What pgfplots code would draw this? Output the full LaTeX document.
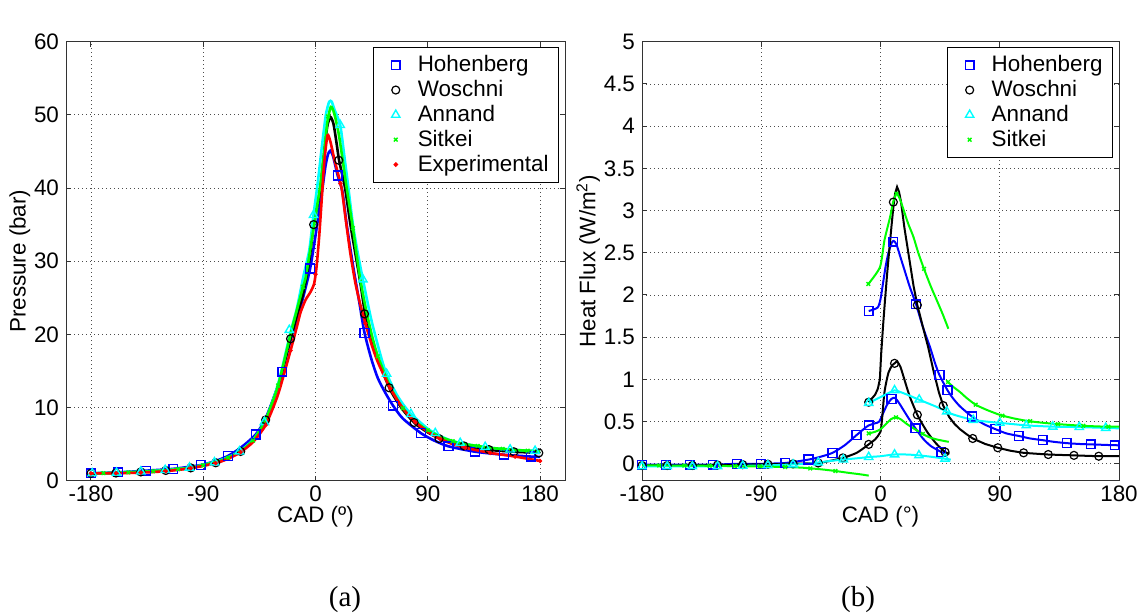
\documentclass[border=0pt]{standalone}
\usepackage{pgfplots}
\pgfplotsset{compat=1.18}
\usepackage{fontspec}
\setmainfont{Liberation Sans}
\newfontfamily\timesfont{Liberation Serif}
\definecolor{mblue}{rgb}{0,0,1}
\definecolor{mcyan}{rgb}{0,1,1}
\definecolor{mgreen}{rgb}{0,1,0}
\definecolor{mred}{rgb}{1,0,0}
\pgfplotsset{
  myaxis/.style={
    scale only axis, anchor=south west,
    font=\fontsize{11.2}{13}\selectfont,
    /pgf/number format/assume math mode=true,
    scaled ticks=false,
    tick align=inside, major tick length=2.5pt,
    grid=major, grid style={black!70, line width=0.4pt, dash pattern=on 0.5pt off 1.5pt},
    axis line style={black!80, line width=0.5pt},
    tick style={black!80, line width=0.5pt},
    xtick={-180,-90,0,90,180},
    xticklabel style={yshift=1pt},
    xlabel style={yshift=4.5pt},
    ylabel style={yshift=-5pt},
    legend style={at={(rel axis cs:1,1)}, anchor=north east, xshift=-3pt, yshift=-2.7pt,
      draw=black, line width=0.5pt, font=\fontsize{11.2}{13}\selectfont, row sep=-1.2pt},
    legend cell align=left,
    legend image code/.code={\path[draw=none] (0pt,0pt) (17pt,0pt); \path[##1, only marks] plot coordinates {(8pt,0pt)};},
  },
  hohM/.style={only marks, mblue, mark=square, mark size=2.2pt, mark options={line width=0.7pt}},
  wosM/.style={only marks, black, mark=o, mark size=2pt, mark options={line width=0.6pt}},
  annM/.style={only marks, mcyan, mark=triangle, mark size=2.4pt, mark options={line width=0.7pt}},
  sitM/.style={only marks, mgreen, mark=x, mark size=1.3pt, mark options={line width=0.7pt}},
  expM/.style={only marks, mred, mark=*, mark size=0.9pt},
}
\begin{document}
\begin{tikzpicture}
\path[use as bounding box] (0pt,0pt) rectangle (569pt,307pt);

%================ LEFT: PRESSURE =================
\begin{axis}[myaxis,
  at={(33pt,66.65pt)}, width=249.5pt, height=219.5pt,
  xmin=-200, xmax=200, ymin=0, ymax=60,
  ytick={0,10,20,30,40,50,60},
  xlabel={CAD (º)}, ylabel={Pressure (bar)},
]
% legend (marker) plots
\addplot[hohM] coordinates {(-180,1.0) (-158,1.14) (-136,1.37) (-114,1.62) (-92,2.14) (-70,3.4) (-48,6.3) (-26.6,14.9) (-4.3,29.0) (17.8,41.7) (39.3,20.2) (62.2,10.25) (84.5,6.5) (106.6,4.7) (128,3.96) (151,3.55) (172.5,3.3)};
\addlegendentry{Hohenberg}
\addplot[wosM] coordinates {(-180,1.0) (-160,1.05) (-140,1.2) (-120,1.4) (-100,1.75) (-80,2.45) (-60,4.0) (-40,8.3) (-20,19.4) (-1.5,35) (18.6,43.8) (39.3,22.8) (59,12.7) (79,7.95) (99,5.75) (119,4.75) (139,4.25) (159,3.95) (179,3.8)};
\addlegendentry{Woschni}
\addplot[annM] coordinates {(-179,1.0) (-159.5,1.08) (-140,1.25) (-120.5,1.45) (-101,1.78) (-81,2.5) (-61,4.0) (-41,8.0) (-21,20.6) (-1.6,36.3) (19.8,48.6) (38,27.5) (57,14.6) (76.5,9.1) (96,6.5) (116,5.15) (136,4.6) (156,4.25) (176,4.07)};
\addlegendentry{Annand}
\addplot[sitM] coordinates {(-170,1.03) (-150,1.14) (-130,1.3) (-110,1.58) (-90,2.1) (-70,3.15) (-50,5.5) (-30,13) (-10,26.5) (10,49.8) (30,34.5) (50,17) (70,9.9) (90,6.9) (110,5.4) (130,4.75) (150,4.35) (170,4.1)};
\addlegendentry{Sitkei}
\addplot[expM] coordinates {(-180,1.0) (-160,1.02) (-140,1.1) (-120,1.3) (-100,1.7) (-80,2.4) (-60,3.9) (-40,7.6) (-20,17.8) (0,28.2) (20,40.6) (40,21.5) (60,12.6) (80,8.0) (100,5.7) (120,4.5) (140,3.8) (160,3.3) (180,2.7)};
\addlegendentry{Experimental}
% lines
\addplot[mblue, line width=1.3pt, smooth, tension=0.4, forget plot] coordinates {
(-180,1.0) (-158,1.14) (-136,1.37) (-114,1.62) (-92,2.14) (-80,2.7) (-70,3.4) (-60,4.5) (-48,6.3) (-40,8.5) (-30,13.0) (-26.6,14.9) (-20,19.2) (-15,22) (-10,25) (-4.3,29) (0,33.5) (3,37) (5.6,40) (8,43) (10,44.6) (11.8,45.1) (14,44.4) (17.8,41.7) (21.6,39.5) (25,35) (30,29.5) (35,24.5) (39.3,20.2) (45,16.5) (50,14.0) (56,12) (62.2,10.25) (70,8.5) (84.5,6.5) (95,5.5) (106.6,4.7) (128,3.96) (151,3.55) (172.5,3.3) (180,3.25)};
\addplot[black, line width=1.3pt, smooth, tension=0.4, forget plot] coordinates {
(-180,1.0) (-160,1.05) (-140,1.2) (-120,1.4) (-100,1.75) (-80,2.45) (-70,3.1) (-60,4.0) (-50,5.6) (-40,8.3) (-30,13.0) (-20,19.4) (-15,22.5) (-10,25.5) (-5,30) (-1.5,35) (2,38) (4.3,40.5) (7,45) (9.5,48.5) (12,49.7) (14.5,48.7) (17,46) (19,43.7) (23.7,40) (28,35) (32,31) (36,27) (40,22.6) (45,19.3) (50,16.6) (60,12.4) (70,9.7) (80,7.8) (90,6.6) (100,5.7) (110,5.1) (120,4.7) (140,4.2) (160,3.95) (180,3.8)};
\addplot[mcyan, line width=1.3pt, smooth, tension=0.4, forget plot] coordinates {
(-180,1.0) (-160,1.08) (-140,1.25) (-120,1.45) (-100,1.8) (-80,2.6) (-70,3.2) (-60,4.1) (-50,5.6) (-40,8.3) (-30,13.2) (-20,20.3) (-15,23.5) (-9.6,28) (-5,31.5) (-1.6,36.3) (2,41) (5,45.5) (8.3,50) (11,51.8) (13,51.8) (15,50.8) (19.8,48.6) (23,44.5) (26,40.5) (30,35) (34,31) (38,27.5) (45,21.8) (55,15.5) (65,11.8) (75,9.4) (90,7.1) (100,6.1) (110,5.4) (120,5.0) (140,4.5) (160,4.2) (180,4.05)};
\addplot[mgreen, line width=1.3pt, smooth, tension=0.4, forget plot] coordinates {
(-180,1.0) (-160,1.07) (-140,1.22) (-120,1.42) (-100,1.78) (-80,2.55) (-70,3.15) (-60,4.05) (-50,5.5) (-40,8.3) (-30,13.0) (-20,20.0) (-15,23.3) (-10,26.5) (-7.6,28) (-2,34) (3.5,40) (7,45) (9.5,49) (12.3,51.1) (15,50.2) (19,47) (25,40) (30,34.5) (35.4,28) (40,23.8) (45,20) (50,17) (60,12.8) (70,9.9) (80,8.1) (90,6.9) (100,6.0) (110,5.4) (120,5.0) (140,4.5) (160,4.2) (180,4.0)};
\addplot[mred, line width=1.3pt, smooth, tension=0.4, forget plot] coordinates {
(-180,1.0) (-160,1.02) (-140,1.1) (-120,1.3) (-100,1.7) (-80,2.4) (-70,3.0) (-60,3.9) (-50,5.3) (-40,7.6) (-30,11.8) (-20,17.8) (-15,21) (-12,23) (-8,24.7) (-4,25.8) (-1,27) (1,29.5) (3,33.5) (5,38.5) (7,43.5) (9.6,47.2) (12,46.3) (15,44) (18,42) (21,39.9) (24,36) (28,31) (32,27) (36,24) (40,21.5) (45,18.6) (50,16.2) (60,12.6) (70,9.9) (80,8.0) (90,6.7) (100,5.7) (110,5.0) (120,4.5) (140,3.8) (160,3.3) (180,2.7)};
\end{axis}

%================ RIGHT: HEAT FLUX =================
\begin{axis}[myaxis,
  at={(321pt,66.65pt)}, width=238.5pt, height=219.5pt,
  xmin=-180, xmax=180, ymin=-0.2, ymax=5,
  ytick={0,0.5,1,1.5,2,2.5,3,3.5,4,4.5,5},
  xlabel={CAD (°)}, ylabel={Heat Flux (W/m\textsuperscript{2})},
]
\addplot[hohM] coordinates {(-180,-0.01) (-162,-0.01) (-144,-0.01) (-126.6,-0.01) (-108.5,0) (-90.4,0) (-71.8,0.01) (-54.3,0.05) (-36.2,0.13) (-18.1,0.34) (-8.9,0.455) (8.3,0.77) (26.4,0.42) (45.9,0.14)
 (-8.9,1.81) (9.7,2.63) (26.8,1.89) (44.5,1.05) (50.6,0.87) (69,0.56) (86.8,0.41) (104.3,0.33) (122.4,0.28) (140.5,0.245) (158.6,0.23) (176.7,0.22)};
\addlegendentry{Hohenberg}
\addplot[wosM] coordinates {(-180,-0.02) (-161,-0.02) (-142,-0.02) (-123,-0.015) (-104,-0.01) (-85,-0.005) (-66,0) (-47,0.01) (-28.4,0.07) (-8.9,0.23) (10.6,1.19) (27.8,0.58) (48.7,0.14)
 (-8.9,0.73) (9.7,3.1) (27.8,1.88) (47.3,0.69) (69.6,0.30) (88.5,0.19) (108,0.13) (126.6,0.11) (146,0.10) (164.7,0.09)};
\addlegendentry{Woschni}
\addplot[annM] coordinates {(-180,-0.03) (-161,-0.03) (-142,-0.03) (-123,-0.028) (-104,-0.024) (-85,-0.018) (-66,-0.008) (-47,0.015) (-28,0.05) (-8.9,0.08) (10.6,0.11) (29,0.10) (48.7,0.06)
 (-8.9,0.72) (10.6,0.87) (29.2,0.76) (50,0.62) (70,0.52) (90,0.485) (110,0.455) (130,0.44) (150,0.435) (170,0.425)};
\addlegendentry{Annand}
\addplot[sitM] coordinates {(-167,-0.02) (-148,-0.021) (-129,-0.023) (-110,-0.028) (-91,-0.031) (-72,-0.038) (-53,-0.055) (-34,-0.085)
 (-8.9,0.36) (11.7,0.55) (32,0.355) (-9.2,2.13) (12,3.2) (32.8,2.31)
 (51,0.97) (71.8,0.70) (92,0.57) (113,0.505) (134,0.47) (153,0.45) (172,0.44)};
\addlegendentry{Sitkei}
% Hohenberg lines
\addplot[mblue, line width=1pt, smooth, tension=0.4, forget plot] coordinates {
(-180,-0.01) (-162,-0.01) (-144,-0.01) (-126.6,-0.01) (-108.5,0.0) (-90.4,0.0) (-71.8,0.01) (-54.3,0.05) (-45,0.085) (-36.2,0.13) (-27,0.22) (-18.1,0.34) (-12,0.42) (-8.9,0.455) (-4,0.48) (-1,0.5) (2,0.6) (5,0.7) (8.3,0.77) (11,0.78) (14,0.72) (18,0.62) (22,0.52) (26.4,0.42) (32,0.3) (38,0.21) (45.9,0.14) (49.5,0.12)};
\addplot[mblue, line width=1pt, smooth, tension=0.4, forget plot] coordinates {
(-8.9,1.81) (-2.2,1.85) (0,1.95) (2,2.15) (4,2.35) (6,2.5) (8.5,2.62) (10,2.64) (12,2.6) (15,2.45) (18,2.3) (22,2.1) (26.8,1.89) (32,1.62) (37.4,1.38) (41,1.2) (44.5,1.05) (50.6,0.87) (55,0.77) (60,0.68) (69,0.56) (78,0.47) (86.8,0.41) (95,0.36) (104.3,0.33) (113,0.3) (122.4,0.28) (131,0.26) (140.5,0.245) (150,0.235) (158.6,0.23) (168,0.225) (176.7,0.22) (180,0.22)};
% Woschni lines
\addplot[black, line width=1pt, smooth, tension=0.4, forget plot] coordinates {
(-180,-0.02) (-161,-0.02) (-142,-0.02) (-123,-0.015) (-104,-0.01) (-85,-0.005) (-66,0.0) (-47,0.01) (-38,0.035) (-28.4,0.07) (-18,0.13) (-8.9,0.23) (-4,0.29) (-1.5,0.34) (0,0.38) (1,0.5) (3,0.85) (6,1.08) (9,1.17) (10.6,1.19) (12.5,1.21) (15,1.15) (18,1.0) (22,0.8) (27.8,0.58) (32,0.46) (36,0.36) (42,0.24) (48.7,0.14) (52,0.12)};
\addplot[black, line width=1pt, forget plot] coordinates {
(-8.9,0.73) (-4,0.82) (-2,0.89) (-0.5,1.0) (0.5,1.3) (2,1.65) (3.4,1.94) (5,2.25) (6.6,2.53) (8.2,2.8) (9.7,3.04) (11,3.2) (12.5,3.28) (14,3.22) (15.5,3.1) (18,2.8) (22,2.4) (25,2.1) (27.8,1.88) (32,1.62) (36,1.38) (40,1.1) (44,0.85) (47.3,0.69) (52,0.55) (56,0.47) (60,0.41) (65,0.35) (69.6,0.30) (79,0.235) (88.5,0.19) (98,0.155) (108,0.13) (117,0.12) (126.6,0.11) (136,0.105) (146,0.10) (155,0.095) (164.7,0.09) (180,0.09)};
% Annand lines
\addplot[mcyan, line width=1pt, smooth, tension=0.4, forget plot] coordinates {
(-180,-0.03) (-150,-0.03) (-120,-0.028) (-90,-0.02) (-70,-0.01) (-55,0.0) (-40,0.03) (-28.4,0.05) (-18,0.065) (-8.9,0.08) (0,0.09) (10,0.11) (20,0.11) (29,0.10) (40,0.08) (48.7,0.06) (53,0.05)};
\addplot[mcyan, line width=1pt, smooth, tension=0.4, forget plot] coordinates {
(-8.9,0.72) (-4,0.76) (0,0.79) (5,0.83) (10.6,0.87) (15,0.85) (20,0.82) (29,0.76) (40,0.69) (48.7,0.63) (52,0.6) (60,0.56) (70,0.52) (80,0.5) (90,0.485) (100,0.47) (110,0.455) (120,0.447) (130,0.44) (140,0.437) (150,0.435) (160,0.43) (170,0.425) (180,0.42)};
% Sitkei lines
\addplot[mgreen, line width=1pt, smooth, tension=0.4, forget plot] coordinates {
(-180,-0.02) (-160,-0.02) (-140,-0.022) (-120,-0.025) (-100,-0.03) (-80,-0.035) (-60,-0.045) (-45,-0.065) (-34,-0.085) (-25,-0.105) (-15,-0.125) (-8.9,-0.14)};
\addplot[mgreen, line width=1pt, smooth, tension=0.4, forget plot] coordinates {
(-8.9,0.36) (-4,0.38) (0,0.41) (4,0.47) (8,0.53) (11.7,0.55) (15,0.53) (20,0.47) (25,0.42) (30,0.37) (36,0.32) (42,0.29) (51.5,0.26)};
\addplot[mgreen, line width=1pt, smooth, tension=0.4, forget plot] coordinates {
(-9.2,2.13) (-0.4,2.33) (3,2.65) (7.2,2.92) (9.5,3.1) (12.3,3.2) (15,3.12) (18,2.98) (21,2.84) (24.8,2.69) (28.5,2.5) (32.8,2.31) (38,2.1) (42.4,1.94) (47,1.77) (51.2,1.6)};
\addplot[mgreen, line width=1pt, smooth, tension=0.4, forget plot] coordinates {
(50,0.98) (55,0.91) (60,0.85) (65,0.78) (71.8,0.70) (80,0.64) (90,0.58) (100,0.54) (110,0.51) (120,0.49) (134,0.47) (153,0.45) (170,0.44) (180,0.44)};
\node[anchor=base west, inner sep=0pt, xshift=0.5pt, yshift=2.8pt] at (rel axis cs:0,1) {x 10\textsuperscript{6}};
\end{axis}

\node[font=\timesfont\fontsize{14.5}{17}\selectfont] at (172.5pt,7pt) {(a)};
\node[font=\timesfont\fontsize{14.5}{17}\selectfont] at (429pt,7pt) {(b)};
\end{tikzpicture}
\end{document}
